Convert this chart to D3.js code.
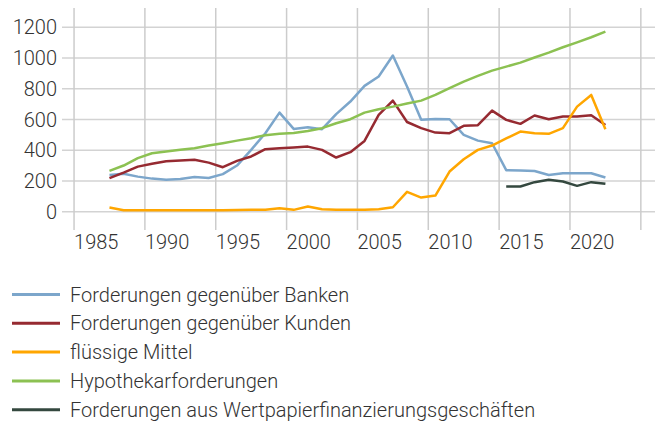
<!DOCTYPE html>
<html>
<head>
<meta charset="utf-8">
<script src="https://cdn.jsdelivr.net/npm/d3@7"></script>
<style>
  body { margin: 0; background: #fff; }
  svg { font-family: Roboto, "Noto Sans", sans-serif; font-weight: 300; }
</style>
</head>
<body>
<svg id="chart"></svg>
<script>
const W = 660;
const H = 424;

// years of the data points
const years = d3.range(1987, 2023);
const yearsWpf = d3.range(2015, 2023);

const banken = [240, 247, 229, 216, 208, 214, 227, 220, 245, 301, 403, 511, 645, 539, 550, 537,
	635, 717, 819, 880, 1016, 815, 598, 604, 602, 500, 463, 446, 271, 268, 266, 240, 251, 251, 251, 223];
const kunden = [219, 255, 294, 312, 329, 333, 338, 320, 290, 331, 360, 407, 414, 418, 424, 403,
	353, 388, 461, 630, 723, 584, 544, 515, 511, 559, 563, 658, 598, 572, 626, 602, 620, 620, 628, 565];
const fluessig = [28, 11, 10, 10, 10, 10, 10, 10, 10, 12, 13, 13, 24, 13, 35, 17,
	13, 13, 13, 17, 30, 130, 93, 106, 262, 342, 403, 431, 477, 522, 511, 507, 544, 684, 760, 537];
const hypothek = [266, 301, 349, 381, 392, 403, 414, 431, 446, 463, 479, 498, 507, 513, 526, 544,
	576, 602, 645, 667, 684, 704, 723, 760, 804, 847, 884, 918, 944, 970, 1003, 1035, 1070, 1102, 1135, 1172];
const wertpapier = [165, 165, 193, 208, 197, 169, 193, 182];

const seriesNames = ["Forderungen gegenüber Banken", "Forderungen gegenüber Kunden", "flüssige Mittel",
	"Hypothekarforderungen", "Forderungen aus Wertpapierfinanzierungsgeschäften"];
const seriesColors = ["#7ca6cb", "#962a31", "#ffa600", "#8cc152", "#34483f"];

const yTicks = [0, 200, 400, 600, 800, 1000, 1200];
const xTicks = [1985, 1990, 1995, 2000, 2005, 2010, 2015, 2020, 2025];
const xLabels = ["1985", "1990", "1995", "2000", "2005", "2010", "2015", "2020", ""];

const series = [
	{ name: seriesNames[0], color: seriesColors[0], values: years.map((y, i) => ({ year: y, v: banken[i] })) },
	{ name: seriesNames[1], color: seriesColors[1], values: years.map((y, i) => ({ year: y, v: kunden[i] })) },
	{ name: seriesNames[2], color: seriesColors[2], values: years.map((y, i) => ({ year: y, v: fluessig[i] })) },
	{ name: seriesNames[3], color: seriesColors[3], values: years.map((y, i) => ({ year: y, v: hypothek[i] })) },
	{ name: seriesNames[4], color: seriesColors[4], values: yearsWpf.map((y, i) => ({ year: y, v: wertpapier[i] })) },
];

const svg = d3.select("#chart").attr("width", W).attr("height", H);

const x = d3.scaleLinear().domain([1984.15, 2026]).range([62, 655]);
const y = d3.scaleLinear().domain([-118, 1325]).range([230, 8]);

// grid
const grid = svg.append("g");
grid.selectAll("line.h").data(yTicks).enter().append("line")
	.attr("x1", x.range()[0]).attr("x2", x.range()[1])
	.attr("y1", d => y(d)).attr("y2", d => y(d))
	.attr("stroke", "#d3d3d3").attr("stroke-width", 1.5);
grid.selectAll("line.v").data(xTicks).enter().append("line")
	.attr("x1", d => x(d)).attr("x2", d => x(d))
	.attr("y1", y.range()[1]).attr("y2", y.range()[0])
	.attr("stroke", "#cccccc").attr("stroke-width", 1.5);

// tick labels
svg.append("g").selectAll("text").data(yTicks).enter().append("text")
	.attr("x", 57).attr("y", d => y(d)).attr("dy", "0.35em")
	.attr("text-anchor", "end").attr("font-size", 20).attr("fill", "#333")
	.text(d => d);
svg.append("g").selectAll("text").data(xTicks).enter().append("text")
	.attr("x", d => x(d)).attr("y", 249)
	.attr("text-anchor", "start").attr("font-size", 20).attr("fill", "#333")
	.text((d, i) => xLabels[i]);

// lines (points sit in the middle of each year)
const line = d3.line().x(d => x(d.year + 0.5)).y(d => y(d.v));
svg.append("g").selectAll("path").data(series).enter().append("path")
	.attr("d", d => line(d.values))
	.attr("fill", "none")
	.attr("stroke", d => d.color)
	.attr("stroke-width", 2.5)
	.attr("stroke-linejoin", "round");

// legend
const legend = svg.append("g").selectAll("g").data(series).enter().append("g")
	.attr("transform", (d, i) => `translate(0, ${294.5 + i * 28.8})`);
legend.append("line")
	.attr("x1", 12).attr("x2", 60).attr("y1", 0).attr("y2", 0)
	.attr("stroke", d => d.color).attr("stroke-width", 3);
legend.append("text")
	.attr("x", 70).attr("dy", "0.35em")
	.attr("font-size", 20).attr("fill", "#333")
	.text(d => d.name);
</script>
</body>
</html>
